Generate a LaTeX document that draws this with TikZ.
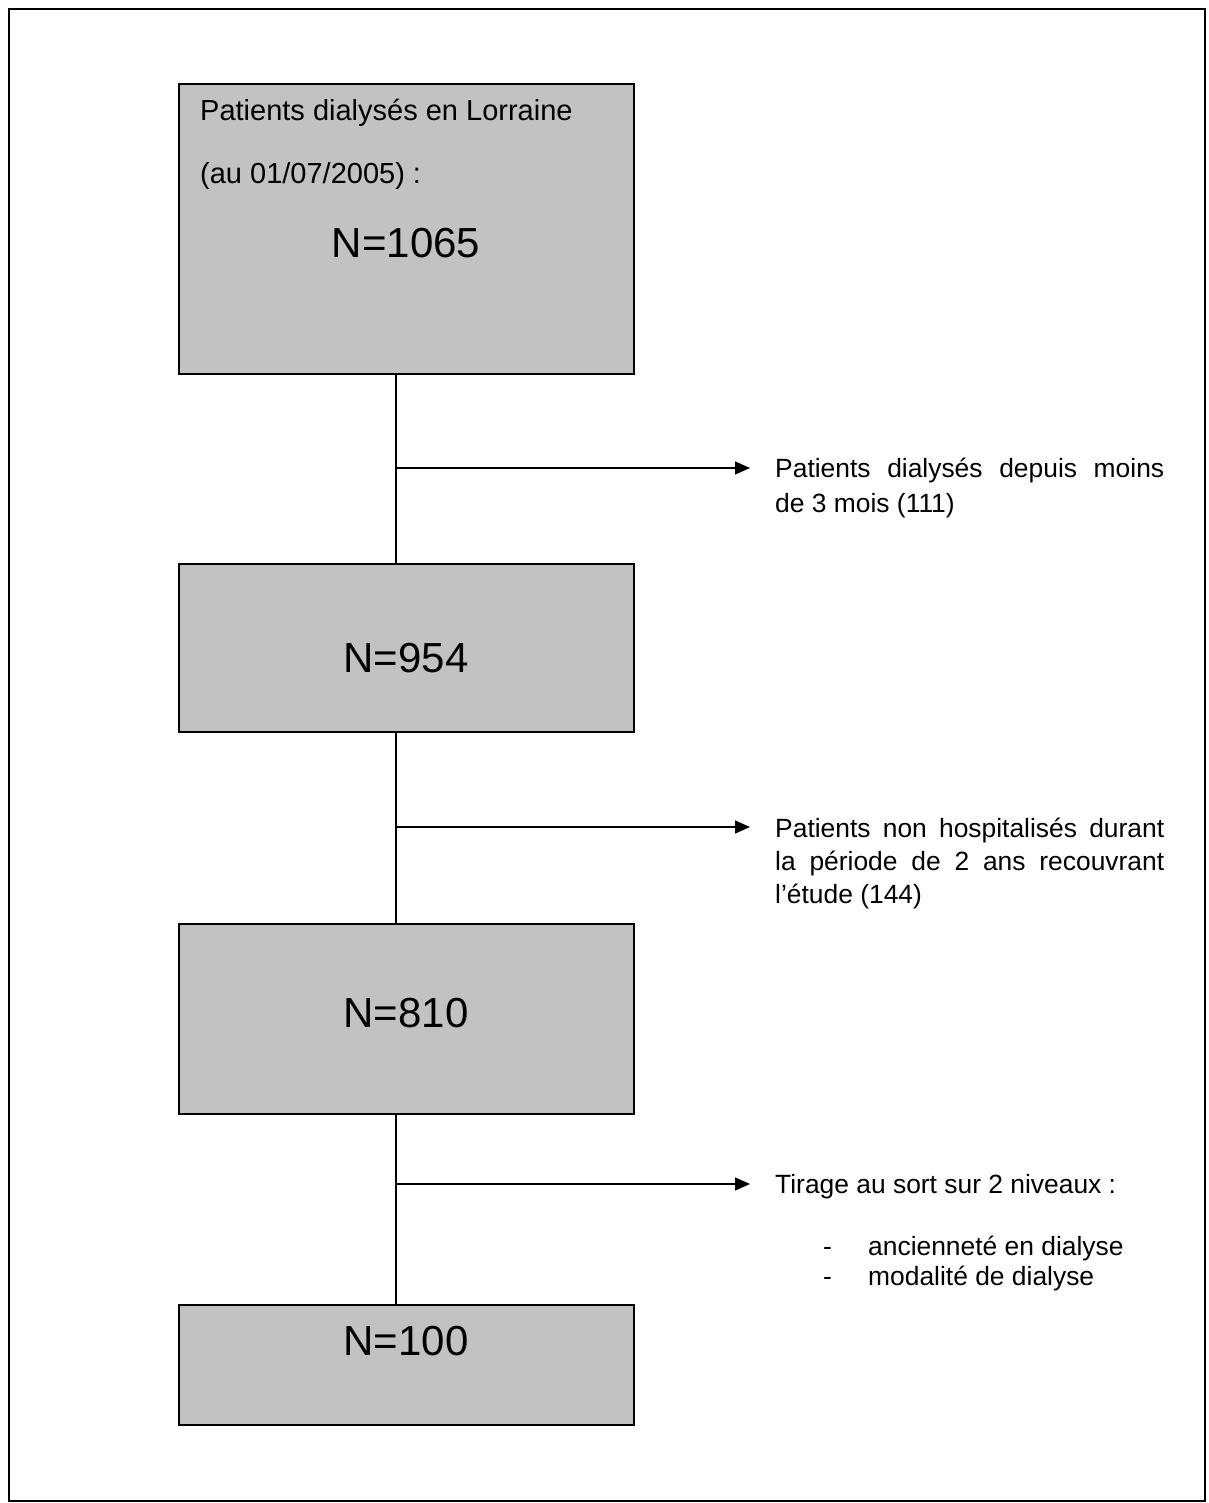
\documentclass[tikz,border=0pt]{standalone}
\usepackage{fontspec}
\setmainfont{Liberation Sans}
\usetikzlibrary{arrows.meta}
\begin{document}
\begin{tikzpicture}[x=1pt,y=-1pt,
  boxst/.style={draw=black, line width=1.6pt, fill=black!24, inner sep=0pt, anchor=north west, minimum width=455pt},
  link/.style={line width=1.5pt},
  arr/.style={line width=1.5pt, -{Triangle[length=15pt,width=13pt]}},
  big/.style={font=\fontsize{42}{48}\selectfont, inner sep=0pt, anchor=base},
  mid/.style={font=\fontsize{29}{34}\selectfont, inner sep=0pt, anchor=base west},
  small/.style={font=\fontsize{26.4}{33}\selectfont, inner sep=0pt, anchor=base west}]
\useasboundingbox (0,0) rectangle (1208,1503);
\draw[line width=1.8pt] (9,9) rectangle (1205,1501);

% boxes
\node[boxst, minimum height=290pt] (b1) at (178,83) {};
\node[boxst, minimum height=168pt] (b2) at (178,563) {};
\node[boxst, minimum height=190pt] (b3) at (178,923) {};
\node[boxst, minimum height=120pt] (b4) at (178,1304) {};

% box texts
\node[mid] (h1) at (200,121) {Patients dialysés en Lorraine};
\node[mid] (h2) at (200,184) {(au 01/07/2005) :};
\node[big] (n1) at (406,258) {N=1065};
\node[big] (n2) at (406,672) {N=954};
\node[big] (n3) at (406,1027) {N=810};
\node[big] (n4) at (406,1355) {N=100};

% junctions and arrow ends
\coordinate (j1) at (396,468);
\coordinate (j2) at (396,827);
\coordinate (j3) at (396,1184);
\coordinate (e1) at (750,468);
\coordinate (e2) at (750,827);
\coordinate (e3) at (750,1184);

% connectors
\draw[link] (b1.south -| j1) -- (b2.north -| j1);
\draw[link] (b2.south -| j2) -- (b3.north -| j2);
\draw[link] (b3.south -| j3) -- (b4.north -| j3);
\draw[arr] (j1) -- (e1);
\draw[arr] (j2) -- (e2);
\draw[arr] (j3) -- (e3);

% side texts
\node[small] (s1a) at (775,477) {\makebox[389pt][s]{Patients dialysés depuis moins}};
\node[small] (s1b) at (775,512) {de 3 mois (111)};
\node[small] (s2a) at (775,837) {\makebox[389pt][s]{Patients non hospitalisés durant}};
\node[small] (s2b) at (775,870) {\makebox[389pt][s]{la période de 2 ans recouvrant}};
\node[small] (s2c) at (775,903) {l’étude (144)};
\node[small] (s3) at (775,1193) {Tirage au sort sur 2 niveaux :};
\node[small] (d1) at (823,1255) {-};
\node[small] (i1) at (868,1255) {ancienneté en dialyse};
\node[small] (d2) at (823,1285) {-};
\node[small] (i2) at (868,1285) {modalité de dialyse};
\end{tikzpicture}
\end{document}
